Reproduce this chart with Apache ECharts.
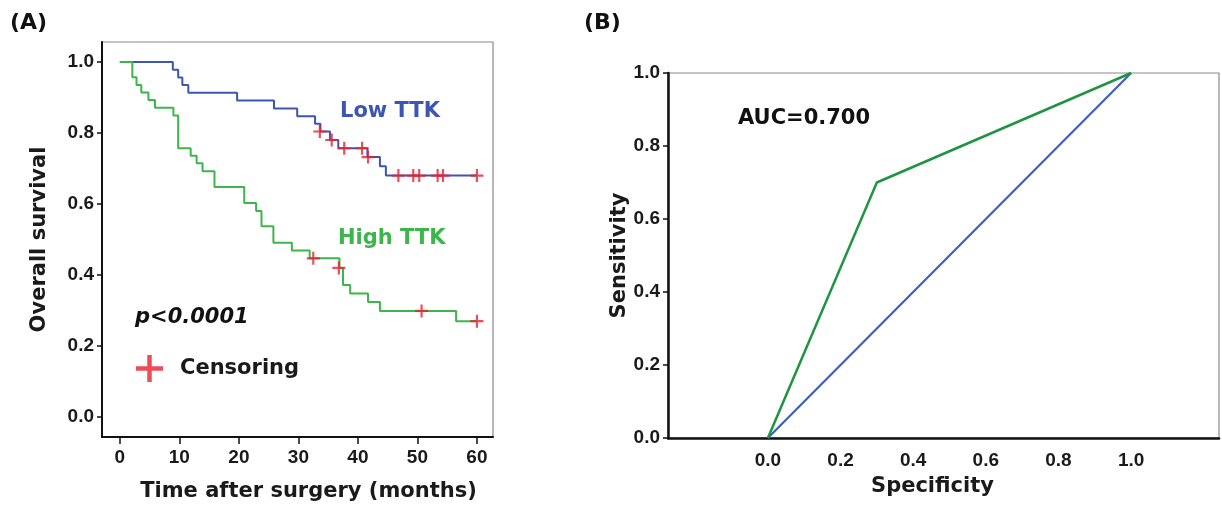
<!DOCTYPE html>
<html>
<head>
<meta charset="utf-8">
<script src="https://cdn.jsdelivr.net/npm/echarts@6/dist/echarts.min.js"></script>
<style>html,body{margin:0;padding:0;background:#fff}#c{width:1222px;height:507px}</style>
</head>
<body>
<div id="c"></div>
<script>
// ---- Panel A: Kaplan-Meier (step points: [month, survival]) ----
var lowTTK = [[0,1.0],[8.9,0.978],[9.8,0.956],[10.5,0.935],[11.5,0.913],[19.7,0.891],[25.9,0.869],[29.8,0.847],[32.8,0.826],[33.7,0.804],[35.3,0.780],[36.7,0.757],[41.6,0.732],[43.7,0.706],[44.7,0.680],[60,0.680]];
var lowCensor = [[33.6,0.804],[35.6,0.780],[37.7,0.757],[40.7,0.757],[41.7,0.732],[46.8,0.680],[49.3,0.680],[50.3,0.680],[53.4,0.680],[54.3,0.680],[60,0.680]];
var highTTK = [[0,1.0],[2.1,0.957],[2.8,0.935],[3.6,0.914],[4.8,0.893],[5.9,0.871],[9.0,0.849],[9.8,0.757],[11.9,0.736],[12.9,0.715],[13.9,0.692],[15.9,0.648],[20.9,0.603],[22.9,0.580],[23.8,0.537],[25.8,0.491],[28.9,0.469],[31.9,0.447],[36.9,0.420],[37.5,0.372],[38.7,0.348],[41.7,0.324],[43.7,0.299],[56.5,0.270],[60,0.270]];
var highCensor = [[32.5,0.447],[36.8,0.420],[50.7,0.299],[60,0.270]];
var kmXTicks = [0,10,20,30,40,50,60];
var kmYTicks = [0,0.2,0.4,0.6,0.8,1.0];
// ---- Panel B: ROC ----
var rocCurve = [[0,0],[0.3,0.7],[1,1]];
var rocRef = [[0,0],[1,1]];
var rocXTicks = [0,0.2,0.4,0.6,0.8,1.0];
var rocYTicks = [0,0.2,0.4,0.6,0.8,1.0];

var FONT = 'DejaVu Sans';
var TFONT = 'Liberation Sans';
var BLUE = '#3d55b3', GREEN = '#3cb54a', RED = '#e8212e';
var plus = 'path://M5,0 L7,0 L7,5 L12,5 L12,7 L7,7 L7,12 L5,12 L5,7 L0,7 L0,5 L5,5 Z';
var tickLab = {fontFamily: TFONT, fontWeight: 'bold', fontSize: 19, color: '#1a1a1a'};
var nameSty = {fontFamily: FONT, fontWeight: 'bold', fontSize: 21, color: '#1a1a1a'};
function f1(v){ return Number(v).toFixed(1); }

var chart = echarts.init(document.getElementById('c'), null, {renderer: 'canvas'});
chart.setOption({
  animation: false,
  backgroundColor: '#fff',
  grid: [
    {left: 102, top: 42, width: 391, height: 396, show: true, borderColor: '#8a8a8a', borderWidth: 1.2},
    {left: 668, top: 73, width: 551, height: 365, show: true, borderColor: '#8a8a8a', borderWidth: 1.2}
  ],
  xAxis: [
    {gridIndex: 0, type: 'value', min: -3, max: 62.7, position: 'bottom',
     axisLine: {onZero: false, lineStyle: {color: '#111', width: 2}},
     axisTick: {show: true, customValues: kmXTicks, length: 7, lineStyle: {color: '#111', width: 1.5}},
     axisLabel: {customValues: kmXTicks, margin: 11, ...tickLab},
     splitLine: {show: false},
     name: 'Time after surgery (months)', nameLocation: 'middle', nameGap: 44,
     nameTextStyle: Object.assign({padding: [0, 0, 0, 22]}, nameSty)},
    {gridIndex: 1, type: 'value', min: -0.275, max: 1.242, position: 'bottom',
     axisLine: {onZero: false, lineStyle: {color: '#111', width: 2.5}},
     axisTick: {show: false, customValues: rocXTicks},
     axisLabel: {customValues: rocXTicks, margin: 13, formatter: f1, ...tickLab},
     splitLine: {show: false},
     name: 'Specificity', nameLocation: 'middle', nameGap: 38,
     nameTextStyle: Object.assign({padding: [0, 22, 0, 0]}, nameSty)}
  ],
  yAxis: [
    {gridIndex: 0, type: 'value', min: -0.056, max: 1.056,
     axisLine: {show: true, onZero: false, lineStyle: {color: '#111', width: 2}},
     axisTick: {show: true, customValues: kmYTicks, length: 5, lineStyle: {color: '#111', width: 1.5}},
     axisLabel: {customValues: kmYTicks, margin: 8, formatter: f1, ...tickLab},
     splitLine: {show: false},
     name: 'Overall survival', nameLocation: 'middle', nameGap: 52, nameRotate: 90,
     nameTextStyle: nameSty},
    {gridIndex: 1, type: 'value', min: 0, max: 1,
     axisLine: {show: true, onZero: false, lineStyle: {color: '#111', width: 2.5}},
     axisTick: {show: true, customValues: rocYTicks, length: 5, lineStyle: {color: '#111', width: 1.5}},
     axisLabel: {customValues: rocYTicks, margin: 8, formatter: f1, ...tickLab},
     splitLine: {show: false},
     name: 'Sensitivity', nameLocation: 'middle', nameGap: 33, nameRotate: 90,
     nameTextStyle: nameSty}
  ],
  legend: {
    data: [{name: 'Censoring', icon: plus}],
    left: 131, top: 350, itemWidth: 27, itemHeight: 27, itemGap: 0,
    textStyle: {fontFamily: FONT, fontWeight: 'bold', fontSize: 21, color: '#1a1a1a', padding: [0, 0, 0, 12]},
    selectedMode: false
  },
  series: [
    {name: 'Low TTK', type: 'line', xAxisIndex: 0, yAxisIndex: 0, step: 'end', data: lowTTK,
     showSymbol: false, lineStyle: {color: BLUE, width: 2}, z: 2},
    {name: 'High TTK', type: 'line', xAxisIndex: 0, yAxisIndex: 0, step: 'end', data: highTTK,
     showSymbol: false, lineStyle: {color: GREEN, width: 2}, z: 3},
    {name: 'Censoring', type: 'scatter', xAxisIndex: 0, yAxisIndex: 0, data: lowCensor.concat(highCensor),
     symbol: plus, symbolSize: 13, itemStyle: {color: RED}, z: 5},
    {name: 'ROC', type: 'line', xAxisIndex: 1, yAxisIndex: 1, data: rocCurve,
     showSymbol: false, lineStyle: {color: '#1f9442', width: 2.5}, z: 3},
    {name: 'Reference', type: 'line', xAxisIndex: 1, yAxisIndex: 1, data: rocRef,
     showSymbol: false, lineStyle: {color: '#3d5fbf', width: 2.2}, z: 2}
  ],
  graphic: [
    {type: 'text', left: 10, top: 12, style: {text: '(A)', fontFamily: FONT, fontWeight: 'bold', fontSize: 22, fill: '#111'}},
    {type: 'text', left: 584, top: 12, style: {text: '(B)', fontFamily: FONT, fontWeight: 'bold', fontSize: 22, fill: '#111'}},
    {type: 'text', left: 340, top: 101, style: {text: 'Low TTK', fontFamily: FONT, fontWeight: 'bold', fontSize: 21, fill: BLUE}},
    {type: 'text', left: 338, top: 228, style: {text: 'High TTK', fontFamily: FONT, fontWeight: 'bold', fontSize: 21, fill: GREEN}},
    {type: 'text', left: 135, top: 307, style: {text: 'p<0.0001', fontFamily: FONT, fontWeight: 'bold', fontStyle: 'italic', fontSize: 21, fill: '#111'}},
    {type: 'text', left: 738, top: 108, style: {text: 'AUC=0.700', fontFamily: FONT, fontWeight: 'bold', fontSize: 21, fill: '#111'}}
  ]
});
</script>
</body>
</html>
